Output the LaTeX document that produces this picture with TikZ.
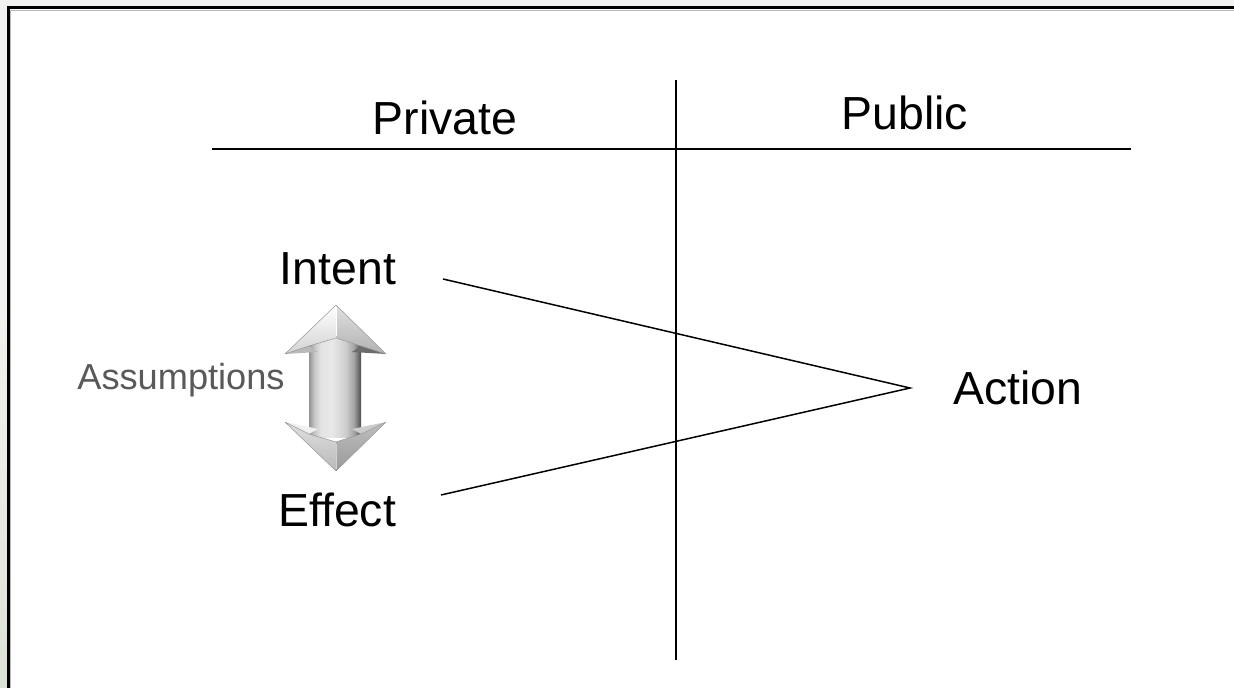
\documentclass[tikz,border=0pt]{standalone}
\usepackage{fontspec}
\setmainfont{Liberation Sans}
\usepackage{tikz}
\usetikzlibrary{positioning}

\definecolor{pagegray}{HTML}{F2F2F0}
\definecolor{stripgreen}{HTML}{DCE1D6}
\definecolor{labelgray}{HTML}{595959}

% only the middle 25bp--75bp lands on the shaft
\pgfdeclarehorizontalshading{shaftshade}{100bp}{color(0bp)=(gray!85); color(25bp)=(gray!85); color(30bp)=(gray!45); color(36bp)=(gray!22); color(47bp)=(gray!18); color(60bp)=(gray!38); color(68bp)=(gray!70); color(75bp)=(black!70); color(100bp)=(black!70)}

\tikzset{
  bigword/.style={inner sep=0pt, anchor=base, font=\fontsize{26.4}{30}\selectfont},
  smallword/.style={inner sep=0pt, anchor=base, text=labelgray, font=\fontsize{20.6}{24}\selectfont},
  axisline/.style={line width=1.15pt, black},
  link/.style={line width=0.85pt, black},
  facet/.style={draw=gray!80, line width=0.3pt, line join=round}
}

\begin{document}
\begin{tikzpicture}[x=0.02cm, y=-0.02cm]
\useasboundingbox (0,0) rectangle (1234,688);

% page and frame
\fill[pagegray] (0,0) rectangle (1234,688);
\shade[top color=pagegray, bottom color=stripgreen] (0,300) rectangle (8,688);
\fill[white] (8,7) rectangle (1234,688);
\draw[gray!55, line width=0.6pt] (10.5,10.5)--(1234,10.5);
\draw[gray!55, line width=0.6pt] (10.5,10.5)--(10.5,688);
\draw[black, line width=1.7pt] (7,7.5)--(1234,7.5);
\draw[black, line width=1.7pt] (8.5,6)--(8.5,688);

% the cross
\draw[axisline] (212,149)--(1131,149);
\draw[axisline] (676,80)--(676,660);

\node[bigword] (private) at (445,135) {Private};
\node[bigword] (public) at (905,130) {Public};
\node[bigword] (intent) at (338,285) {Intent};
\node[bigword] (effect) at (337,527) {Effect};
\node[bigword] (action) at (1018,405) {Action};
\node[smallword] (assump) at (181,390) {Assumptions};

% links through the middle
\coordinate (intentend) at (443,279);
\coordinate (effectend) at (441,495);
\coordinate (apex) at (910,388);
\draw[link, line join=miter] (intentend)--(apex)--(effectend);

% double arrow between intent and effect
\shade[shading=shaftshade] (309,340) rectangle (361,438);
% top head
\shade[top color=white, bottom color=gray!35] (336,305)--(285,354)--(309,346)--(336,338)--cycle;
\shade[top color=gray!25, bottom color=gray!60] (336,305)--(336,338)--(361,346)--(386,354)--cycle;
\fill[gray!55] (285,354)--(309,346)--(318,352)--cycle;
\fill[gray!85!black] (386,354)--(361,346)--(352,352)--cycle;
\draw[facet] (336,305)--(386,354)--(361,346)--(336,338)--(309,346)--(285,354)--cycle;
\draw[white, line width=0.5pt] (336,307)--(336,336);
% bottom head
\shade[top color=gray!25, bottom color=gray!55] (336,471)--(285,422)--(309,434)--(336,442)--cycle;
\shade[top color=gray!50, bottom color=gray!80] (336,471)--(336,442)--(361,434)--(386,422)--cycle;
\fill[gray!12] (285,422)--(309,434)--(318,429)--cycle;
\fill[gray!40] (386,422)--(361,434)--(352,429)--cycle;
\draw[facet] (336,471)--(386,422)--(361,434)--(336,442)--(309,434)--(285,422)--cycle;
\draw[gray!35, line width=0.5pt] (336,469)--(336,444);
\end{tikzpicture}
\end{document}
